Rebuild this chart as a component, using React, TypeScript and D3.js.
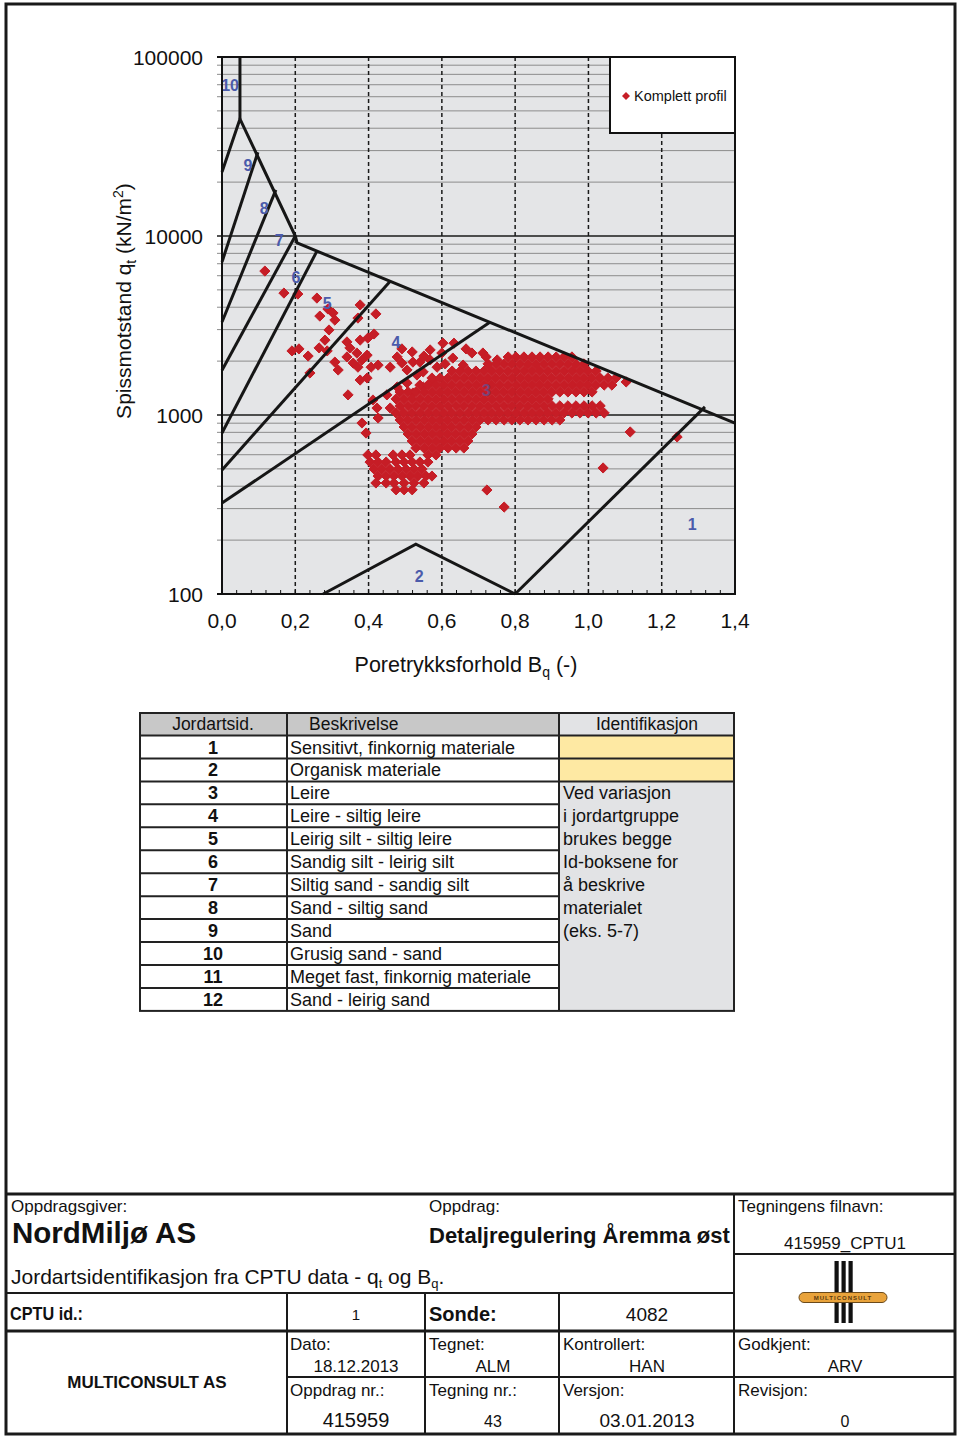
import React, { useEffect } from 'react';
import * as d3 from 'd3';

// ---------- chart data ----------
const xTickValues = [0, 0.2, 0.4, 0.6, 0.8, 1.0, 1.2, 1.4];
const xTickLabels = ['0,0', '0,2', '0,4', '0,6', '0,8', '1,0', '1,2', '1,4'];
const yTickValues = [100, 1000, 10000, 100000];
const yTickLabels = ['100', '1000', '10000', '100000'];
const dashedX = [0.2, 0.4, 0.6, 0.8, 1.0, 1.2];

// zone boundaries [Bq, qt]
const zoneLines: [number, number][][] = [
  [[0.049, 100000], [0.049, 45100]],
  [[0.0, 22800], [0.049, 45100], [0.2, 10000], [0.205, 9140], [1.4, 902]],
  [[0.0, 7160], [0.098, 29400]],
  [[0.0, 3310], [0.147, 18100]],
  [[0.0, 1780], [0.2, 10000]],
  [[0.0, 794], [0.259, 8230]],
  [[0.0, 493], [0.459, 5590]],
  [[0.0, 322], [0.731, 3300]],
  [[0.8, 100], [1.318, 1110]],
  [[0.276, 100], [0.529, 190], [0.8, 100]],
];

const zoneLabels: { id: string; bq: number; qt: number }[] = [
  { id: '10', bq: 0.022, qt: 69700 },
  { id: '9', bq: 0.071, qt: 24900 },
  { id: '8', bq: 0.115, qt: 14300 },
  { id: '7', bq: 0.156, qt: 9380 },
  { id: '6', bq: 0.202, qt: 5900 },
  { id: '5', bq: 0.287, qt: 4220 },
  { id: '4', bq: 0.475, qt: 2525 },
  { id: '3', bq: 0.721, qt: 1364 },
  { id: '2', bq: 0.538, qt: 124.5 },
  { id: '1', bq: 1.283, qt: 246 },
];

const seriesName = 'Komplett profil';

const upperScatter: [number, number][] = [
  [0.117, 6370], [0.169, 4800], [0.207, 4740], [0.259, 4500], [0.289, 3910], [0.267, 3570],
  [0.303, 3710], [0.308, 3390], [0.377, 4120], [0.371, 3480], [0.420, 3670], [0.292, 2985],
  [0.415, 2835], [0.398, 2690], [0.377, 2620], [0.281, 2620], [0.341, 2560], [0.265, 2370],
  [0.191, 2280], [0.210, 2340], [0.235, 2135], [0.287, 2280], [0.349, 2370], [0.368, 2220],
  [0.396, 2160], [0.341, 2110], [0.382, 2030], [0.358, 1950], [0.308, 1975], [0.317, 1784],
  [0.240, 1716], [0.371, 1850], [0.407, 1850], [0.377, 1568], [0.396, 1610], [0.426, 1900],
  [0.459, 1850], [0.478, 2110], [0.491, 1950], [0.505, 1784], [0.521, 1975], [0.532, 1673],
  [0.549, 1740], [0.568, 2030], [0.587, 1850], [0.603, 2520], [0.600, 2220], [0.344, 1295],
  [0.412, 1213], [0.423, 1094], [0.450, 1295], [0.478, 1434], [0.505, 1510], [0.521, 1327],
  [0.549, 1434], [0.576, 1568], [0.382, 902], [0.393, 793], [0.426, 962], [0.459, 1094],
  [0.633, 2520], [0.682, 2220], [0.712, 2220], [0.630, 2080], [0.658, 1900], [0.751, 2030],
  [0.568, 2310], [0.551, 2135], [0.519, 2250], [0.491, 2340], [0.666, 2340], [0.721, 2110],
  [0.609, 1930], [0.540, 1975],
];

const mainCluster: [number, number][] = [
  [0.781, 2110], [0.802, 2110], [0.824, 2110], [0.846, 2110], [0.868, 2110], [0.890, 2110],
  [0.912, 2110], [0.933, 2110], [0.955, 2110],
  [0.726, 1930], [0.748, 1930], [0.770, 1930], [0.791, 1930], [0.813, 1930], [0.835, 1930],
  [0.857, 1930], [0.879, 1930], [0.901, 1930], [0.922, 1930], [0.944, 1930], [0.966, 1930],
  [0.988, 1930],
  [0.628, 1760], [0.650, 1760], [0.671, 1760], [0.693, 1760], [0.715, 1760], [0.737, 1760],
  [0.759, 1760], [0.781, 1760], [0.802, 1760], [0.824, 1760], [0.846, 1760], [0.868, 1760],
  [0.890, 1760], [0.912, 1760], [0.933, 1760], [0.955, 1760], [0.977, 1760], [0.999, 1760],
  [1.021, 1760],
  [0.573, 1610], [0.595, 1610], [0.617, 1610], [0.639, 1610], [0.660, 1610], [0.682, 1610],
  [0.704, 1610], [0.726, 1610], [0.748, 1610], [0.770, 1610], [0.791, 1610], [0.813, 1610],
  [0.835, 1610], [0.857, 1610], [0.879, 1610], [0.901, 1610], [0.922, 1610], [0.944, 1610],
  [0.966, 1610], [0.988, 1610], [1.010, 1610], [1.032, 1610], [1.053, 1610], [1.075, 1610],
  [0.540, 1470], [0.562, 1470], [0.584, 1470], [0.606, 1470], [0.628, 1470], [0.650, 1470],
  [0.671, 1470], [0.693, 1470], [0.715, 1470], [0.737, 1470], [0.759, 1470], [0.781, 1470],
  [0.802, 1470], [0.824, 1470], [0.846, 1470], [0.868, 1470], [0.890, 1470], [0.912, 1470],
  [0.933, 1470], [0.955, 1470], [0.977, 1470], [0.999, 1470], [1.021, 1470], [1.043, 1470],
  [1.064, 1470], [1.103, 1530],
  [0.486, 1345], [0.508, 1345], [0.529, 1345], [0.551, 1345], [0.573, 1345], [0.595, 1345],
  [0.617, 1345], [0.639, 1345], [0.660, 1345], [0.682, 1345], [0.704, 1345], [0.726, 1345],
  [0.748, 1345], [0.770, 1345], [0.791, 1345], [0.813, 1345], [0.835, 1345], [0.857, 1345],
  [0.879, 1345], [0.901, 1345], [0.922, 1345], [0.944, 1345], [0.966, 1345], [0.988, 1345],
  [1.010, 1345],
  [0.475, 1230], [0.497, 1230], [0.519, 1230], [0.540, 1230], [0.562, 1230], [0.584, 1230],
  [0.606, 1230], [0.628, 1230], [0.650, 1230], [0.671, 1230], [0.693, 1230], [0.715, 1230],
  [0.737, 1230], [0.759, 1230], [0.781, 1230], [0.802, 1230], [0.824, 1230], [0.846, 1230],
  [0.868, 1230], [0.890, 1230],
  [0.486, 1125], [0.508, 1125], [0.529, 1125], [0.551, 1125], [0.573, 1125], [0.595, 1125],
  [0.617, 1125], [0.639, 1125], [0.660, 1125], [0.682, 1125], [0.704, 1125], [0.726, 1125],
  [0.748, 1125], [0.770, 1125], [0.791, 1125], [0.813, 1125], [0.835, 1125], [0.857, 1125],
  [0.879, 1125], [0.901, 1125], [0.922, 1125], [0.944, 1125], [0.966, 1125], [0.988, 1125],
  [1.010, 1125], [1.032, 1125],
  [0.475, 1026], [0.497, 1026], [0.519, 1026], [0.540, 1026], [0.562, 1026], [0.584, 1026],
  [0.606, 1026], [0.628, 1026], [0.650, 1026], [0.671, 1026], [0.693, 1026], [0.715, 1026],
  [0.737, 1026], [0.759, 1026], [0.781, 1026], [0.802, 1026], [0.824, 1026], [0.846, 1026],
  [0.868, 1026], [0.890, 1026], [0.912, 1026], [0.933, 1026], [0.955, 1026], [0.977, 1026],
  [0.999, 1026], [1.021, 1026], [1.043, 1026],
  [0.486, 938], [0.508, 938], [0.529, 938], [0.551, 938], [0.573, 938], [0.595, 938],
  [0.617, 938], [0.639, 938], [0.660, 938], [0.682, 938], [0.704, 938], [0.726, 938],
  [0.748, 938], [0.770, 938], [0.791, 938], [0.813, 938], [0.835, 938], [0.857, 938],
  [0.879, 938], [0.901, 938], [0.922, 938],
  [0.497, 857], [0.519, 857], [0.540, 857], [0.562, 857], [0.584, 857], [0.606, 857],
  [0.628, 857], [0.650, 857], [0.671, 857], [0.693, 857],
  [0.508, 783], [0.529, 783], [0.551, 783], [0.573, 783], [0.595, 783], [0.617, 783],
  [0.639, 783], [0.660, 783], [0.682, 783],
  [0.519, 716], [0.540, 716], [0.562, 716], [0.584, 716], [0.606, 716], [0.628, 716],
  [0.650, 716], [0.671, 716],
  [0.529, 654], [0.551, 654], [0.573, 654], [0.595, 654], [0.617, 654], [0.639, 654],
  [0.660, 654],
  [0.562, 598], [0.584, 598],
];

const lowerCluster: [number, number][] = [
  [0.398, 598], [0.420, 598], [0.467, 598], [0.491, 598], [0.513, 598],
  [0.404, 546], [0.426, 546], [0.448, 546], [0.475, 546], [0.497, 546], [0.519, 546],
  [0.540, 546], [0.562, 546],
  [0.415, 499], [0.437, 499], [0.459, 499], [0.480, 499], [0.502, 499], [0.524, 499],
  [0.546, 499],
  [0.426, 456], [0.448, 456], [0.469, 456], [0.491, 456], [0.513, 456], [0.535, 456],
  [0.557, 456], [0.573, 456],
  [0.420, 417], [0.448, 417], [0.469, 417], [0.497, 417], [0.524, 417], [0.551, 417],
  [0.475, 382], [0.497, 382], [0.519, 382],
];

const outliers: [number, number][] = [
  [0.723, 381], [0.770, 306], [1.040, 506], [1.114, 804], [1.242, 754],
];

// ---------- table data ----------
const tableHeaders = ['Jordartsid.', 'Beskrivelse', 'Identifikasjon'];
const soilIds = ['1', '2', '3', '4', '5', '6', '7', '8', '9', '10', '11', '12'];
const soilDescriptions = [
  'Sensitivt, finkornig materiale',
  'Organisk materiale',
  'Leire',
  'Leire - siltig leire',
  'Leirig silt - siltig leire',
  'Sandig silt - leirig silt',
  'Siltig sand - sandig silt',
  'Sand - siltig sand',
  'Sand',
  'Grusig sand - sand',
  'Meget fast, finkornig materiale',
  'Sand - leirig sand',
];
const identNotes = [
  'Ved variasjon',
  'i jordartgruppe',
  'brukes begge',
  'Id-boksene for',
  'å beskrive',
  'materialet',
  '(eks. 5-7)',
];

const SANS = "'Liberation Sans', Arial, Helvetica, sans-serif";
const RED = '#c61d26';
const BLUE = '#4b5bab';

const diamond = (r: number) => `M0,${-r}L${r},0L0,${r}L${-r},0Z`;

export default function App() {
  useEffect(() => {
    document.body.style.margin = '0';
    document.body.style.overflow = 'hidden';
  }, []);

  const x = d3.scaleLinear().domain([0, 1.4]).range([222, 735]);
  const y = d3.scaleLog().domain([100, 100000]).range([594, 57]);
  const line = d3
    .line<[number, number]>()
    .x((d) => x(d[0]))
    .y((d) => y(d[1]));

  const minorY: number[] = [];
  [100, 1000, 10000].forEach((dec) => {
    for (let k = 2; k <= 9; k++) minorY.push(k * dec);
  });
  const majorY = [1000, 10000];
  const bottomTicks = d3.range(0, 36).map((i) => i * 0.04);

  const points = [...upperScatter, ...mainCluster, ...lowerCluster, ...outliers];

  // table geometry
  const tX0 = 140, tX1 = 287, tX2 = 559, tX3 = 734;
  const tY0 = 713, tHead = 735.5, rowH = 22.95;
  const tY1 = tHead + 12 * rowH;

  return (
    <svg
      width={960}
      height={1439}
      style={{ position: 'absolute', left: 0, top: 0, display: 'block' }}
      fontFamily={SANS}
    >
      <rect x={0} y={0} width={960} height={1439} fill="#ffffff" />
      <defs>
        <clipPath id="plotClip">
          <rect x={222} y={57} width={513} height={537} />
        </clipPath>
      </defs>

      {/* ---------- chart ---------- */}
      <rect x={222} y={57} width={513} height={537} fill="#e4e5e7" />
      {minorY.map((v) => (
        <line key={'mn' + v} x1={217} x2={735} y1={y(v)} y2={y(v)} stroke="#8c8c8c" strokeWidth={1} />
      ))}
      {majorY.map((v) => (
        <line key={'mj' + v} x1={217} x2={735} y1={y(v)} y2={y(v)} stroke="#1a1a1a" strokeWidth={1.5} />
      ))}
      {dashedX.map((v) => (
        <line
          key={'dx' + v}
          x1={x(v)}
          x2={x(v)}
          y1={57}
          y2={594}
          stroke="#1a1a1a"
          strokeWidth={1.5}
          strokeDasharray="4,3"
        />
      ))}

      <g clipPath="url(#plotClip)">
        {points.map((p, i) => (
          <path
            key={'pt' + i}
            d={diamond(5.1)}
            transform={`translate(${x(p[0])},${y(p[1])})`}
            fill={RED}
            stroke={RED}
            strokeWidth={1}
            strokeLinejoin="round"
          />
        ))}
      </g>
      <g>
        {zoneLines.map((l, i) => (
          <path key={'zl' + i} d={line(l) || ''} fill="none" stroke="#161616" strokeWidth={3} strokeLinejoin="miter" />
        ))}
      </g>
      {zoneLabels.map((z) => (
        <text
          key={'zlab' + z.id}
          x={x(z.bq)}
          y={y(z.qt)}
          fill={BLUE}
          fontSize={16}
          fontWeight="bold"
          textAnchor="middle"
          dominantBaseline="central"
          opacity={z.id === '3' ? 0.6 : 1}
        >
          {z.id}
        </text>
      ))}

      {/* frame */}
      <line x1={217} x2={736} y1={57} y2={57} stroke="#111" strokeWidth={2} />
      <line x1={735} x2={735} y1={56} y2={595} stroke="#111" strokeWidth={2} />
      <line x1={222} x2={222} y1={56} y2={595} stroke="#111" strokeWidth={2} />
      <line x1={217} x2={736} y1={594} y2={594} stroke="#111" strokeWidth={2} />
      {bottomTicks.map((v, i) => (
        <line key={'bt' + i} x1={x(v)} x2={x(v)} y1={594} y2={590} stroke="#111" strokeWidth={1} />
      ))}

      {/* legend */}
      <rect x={610} y={57} width={125} height={76} fill="#ffffff" stroke="#111" strokeWidth={2} />
      <path d={diamond(4)} transform="translate(626,96)" fill={RED} />
      <text x={634} y={101} fontSize={14.5} fill="#111">
        {seriesName}
      </text>

      {/* tick labels */}
      {yTickValues.map((v, i) => (
        <text key={'yl' + v} x={203} y={y(v) + 7.5} fontSize={21} textAnchor="end" fill="#111">
          {yTickLabels[i]}
        </text>
      ))}
      {xTickValues.map((v, i) => (
        <text key={'xl' + v} x={x(v)} y={628} fontSize={21} textAnchor="middle" fill="#111">
          {xTickLabels[i]}
        </text>
      ))}

      {/* axis titles */}
      <text x={466} y={672} fontSize={21.5} textAnchor="middle" fill="#111">
        Poretrykksforhold B<tspan dy={5} fontSize={14}>q</tspan>
        <tspan dy={-5}> (-)</tspan>
      </text>
      <text transform="translate(131,301) rotate(-90)" fontSize={21} textAnchor="middle" fill="#111">
        Spissmotstand q<tspan dy={5} fontSize={14}>t</tspan>
        <tspan dy={-5}> (kN/m</tspan>
        <tspan dy={-8} fontSize={14}>2</tspan>
        <tspan dy={8}>)</tspan>
      </text>

      {/* ---------- table ---------- */}
      <rect x={tX0} y={tY0} width={tX2 - tX0} height={tHead - tY0} fill="#c8c8c8" />
      <rect x={tX2} y={tY0} width={tX3 - tX2} height={tHead - tY0} fill="#e2e3e5" />
      <rect x={tX0} y={tHead} width={tX2 - tX0} height={tY1 - tHead} fill="#ffffff" />
      <rect x={tX2} y={tHead} width={tX3 - tX2} height={2 * rowH} fill="#fee9a3" />
      <rect x={tX2} y={tHead + 2 * rowH} width={tX3 - tX2} height={tY1 - tHead - 2 * rowH} fill="#e2e3e5" />
      {soilIds.map((_, i) => (
        <line
          key={'hr' + i}
          x1={tX0}
          x2={tX2}
          y1={tHead + i * rowH}
          y2={tHead + i * rowH}
          stroke="#222"
          strokeWidth={2}
        />
      ))}
      {[0, 1, 2].map((i) => (
        <line
          key={'hr3' + i}
          x1={tX2}
          x2={tX3}
          y1={tHead + i * rowH}
          y2={tHead + i * rowH}
          stroke="#222"
          strokeWidth={2}
        />
      ))}
      <line x1={tX1} x2={tX1} y1={tY0} y2={tY1} stroke="#222" strokeWidth={2} />
      <line x1={tX2} x2={tX2} y1={tY0} y2={tY1} stroke="#222" strokeWidth={2} />
      <rect x={tX0} y={tY0} width={tX3 - tX0} height={tY1 - tY0} fill="none" stroke="#222" strokeWidth={2} />
      <text x={213} y={730} fontSize={17.5} textAnchor="middle" fill="#111">
        {tableHeaders[0]}
      </text>
      <text x={309} y={730} fontSize={17.5} fill="#111">
        {tableHeaders[1]}
      </text>
      <text x={647} y={730} fontSize={17.5} textAnchor="middle" fill="#111">
        {tableHeaders[2]}
      </text>
      {soilIds.map((id, i) => (
        <text
          key={'id' + id}
          x={213}
          y={tHead + i * rowH + 18}
          fontSize={18}
          fontWeight="bold"
          textAnchor="middle"
          fill="#111"
        >
          {id}
        </text>
      ))}
      {soilDescriptions.map((t, i) => (
        <text key={'ds' + i} x={290} y={tHead + i * rowH + 18} fontSize={18} fill="#111">
          {t}
        </text>
      ))}
      {identNotes.map((t, i) => (
        <text key={'in' + i} x={563} y={tHead + (i + 2) * rowH + 18} fontSize={18} fill="#111">
          {t}
        </text>
      ))}

      {/* ---------- title block ---------- */}
      <rect x={6} y={4} width={949} height={1430} fill="none" stroke="#1a1a1a" strokeWidth={3} />
      <line x1={6} x2={955} y1={1194} y2={1194} stroke="#1a1a1a" strokeWidth={3} />
      <line x1={734} x2={734} y1={1194} y2={1434} stroke="#1a1a1a" strokeWidth={2} />
      <line x1={734} x2={955} y1={1254} y2={1254} stroke="#1a1a1a" strokeWidth={2} />
      <line x1={6} x2={734} y1={1293} y2={1293} stroke="#1a1a1a" strokeWidth={2} />
      <line x1={287} x2={287} y1={1293} y2={1434} stroke="#1a1a1a" strokeWidth={2} />
      <line x1={425} x2={425} y1={1293} y2={1434} stroke="#1a1a1a" strokeWidth={2} />
      <line x1={559} x2={559} y1={1293} y2={1434} stroke="#1a1a1a" strokeWidth={2} />
      <line x1={6} x2={955} y1={1331} y2={1331} stroke="#1a1a1a" strokeWidth={3} />
      <line x1={287} x2={955} y1={1377} y2={1377} stroke="#1a1a1a" strokeWidth={2} />

      <text x={11} y={1212} fontSize={17} fill="#111">Oppdragsgiver:</text>
      <text x={12} y={1243} fontSize={29.5} fontWeight="bold" fill="#111">NordMiljø AS</text>
      <text x={429} y={1212} fontSize={17} fill="#111">Oppdrag:</text>
      <text x={429} y={1243} fontSize={22} fontWeight="bold" fill="#111">Detaljregulering Åremma øst</text>
      <text x={738} y={1212} fontSize={17} fill="#111">Tegningens filnavn:</text>
      <text x={845} y={1249} fontSize={17} textAnchor="middle" fill="#111">415959_CPTU1</text>
      <text x={11} y={1284} fontSize={21} fill="#111">
        Jordartsidentifikasjon fra CPTU data - q<tspan dy={4} fontSize={13}>t</tspan>
        <tspan dy={-4}> og B</tspan>
        <tspan dy={4} fontSize={13}>q</tspan>
        <tspan dy={-4}>.</tspan>
      </text>

      {/* logo */}
      <rect x={834.5} y={1261} width={4.2} height={62} fill="#111" />
      <rect x={841.5} y={1261} width={4.2} height={62} fill="#111" />
      <rect x={848.5} y={1261} width={4.2} height={62} fill="#111" />
      <rect x={799} y={1292.5} width={88} height={10} rx={5} fill="#e9a33b" stroke="#6b4a1a" strokeWidth={1} />
      <text x={843} y={1300} fontSize={6} fontWeight="bold" textAnchor="middle" fill="#5a3a10" letterSpacing={1}>
        MULTICONSULT
      </text>

      <text x={10} y={1320} fontSize={19} fontWeight="bold" fill="#111" textLength={73} lengthAdjust="spacingAndGlyphs">
        CPTU id.:
      </text>
      <text x={356} y={1320} fontSize={15} textAnchor="middle" fill="#111">1</text>
      <text x={429} y={1321} fontSize={20} fontWeight="bold" fill="#111">Sonde:</text>
      <text x={647} y={1321} fontSize={19} textAnchor="middle" fill="#111">4082</text>

      <text x={147} y={1388} fontSize={17} fontWeight="bold" textAnchor="middle" fill="#111">MULTICONSULT AS</text>
      <text x={290} y={1350} fontSize={17} fill="#111">Dato:</text>
      <text x={356} y={1372} fontSize={17} textAnchor="middle" fill="#111">18.12.2013</text>
      <text x={429} y={1350} fontSize={17} fill="#111">Tegnet:</text>
      <text x={493} y={1372} fontSize={17} textAnchor="middle" fill="#111">ALM</text>
      <text x={563} y={1350} fontSize={17} fill="#111">Kontrollert:</text>
      <text x={647} y={1372} fontSize={17} textAnchor="middle" fill="#111">HAN</text>
      <text x={738} y={1350} fontSize={17} fill="#111">Godkjent:</text>
      <text x={845} y={1372} fontSize={17} textAnchor="middle" fill="#111">ARV</text>

      <text x={290} y={1396} fontSize={17} fill="#111">Oppdrag nr.:</text>
      <text x={356} y={1427} fontSize={20} textAnchor="middle" fill="#111">415959</text>
      <text x={429} y={1396} fontSize={17} fill="#111">Tegning nr.:</text>
      <text x={493} y={1427} fontSize={16} textAnchor="middle" fill="#111">43</text>
      <text x={563} y={1396} fontSize={17} fill="#111">Versjon:</text>
      <text x={647} y={1427} fontSize={19} textAnchor="middle" fill="#111">03.01.2013</text>
      <text x={738} y={1396} fontSize={17} fill="#111">Revisjon:</text>
      <text x={845} y={1427} fontSize={16} textAnchor="middle" fill="#111">0</text>
    </svg>
  );
}
